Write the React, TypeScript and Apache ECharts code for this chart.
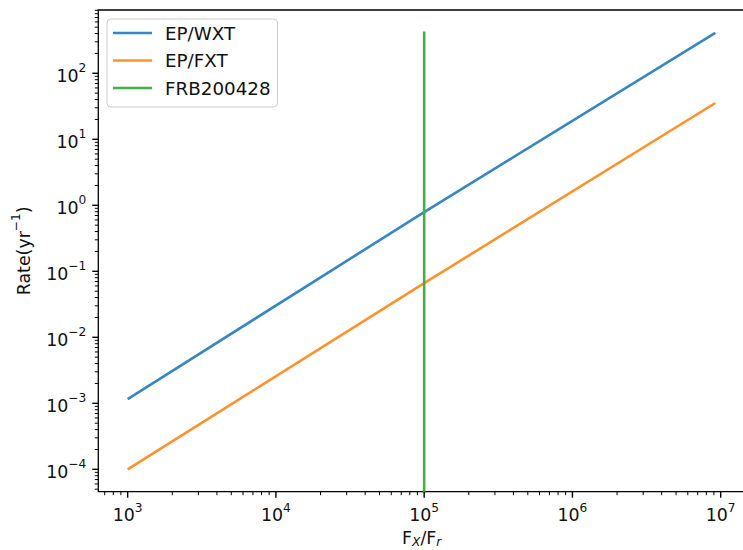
import React, { useEffect, useRef } from 'react';
import * as echarts from 'echarts';

// Detection rate against X-ray to radio fluence ratio
const seriesNames = ['EP/WXT', 'EP/FXT', 'FRB200428'];
const wxtFlux = [1e3, 1e5, 9.2e6];
const wxtRate = [1.16e-3, 0.79, 410];
const fxtFlux = [1e3, 1e5, 9.2e6];
const fxtRate = [1.0e-4, 0.066, 35.5];
const frbFlux = [1e5, 1e5];
const frbRate = [1e-5, 430];

// Tick decades (powers of ten) and minor tick multiples
const xTickExponents = [3, 4, 5, 6, 7];
const yTickExponents = [-4, -3, -2, -1, 0, 1, 2];
const minorMultiples = [2, 3, 4, 5, 6, 7, 8, 9];

const colors = ['#3786c1', '#ff922d', '#48ad48'];
const FONT = 'DejaVu Sans';

const X_MIN = Math.pow(10, 2.802);
const X_MAX = Math.pow(10, 7.164);
const Y_MIN = Math.pow(10, -4.339);
const Y_MAX = Math.pow(10, 2.959);

const sup = (e: number) => (e < 0 ? '\u2212' + Math.abs(e) : String(e));

const powerLabel = (v: number) => {
  const l = Math.log10(v);
  const e = Math.round(l);
  if (Math.abs(l - e) > 1e-6) return '';
  return `{b|10}{s|${sup(e)}}`;
};

const labelRich = {
  b: { fontFamily: FONT, fontSize: 17.4, lineHeight: 22, color: '#111', verticalAlign: 'bottom' },
  s: { fontFamily: FONT, fontSize: 12.2, lineHeight: 12, color: '#111', verticalAlign: 'top' },
};

// Tick marks: kind 0 = x major, 1 = x minor, 2 = y major, 3 = y minor
function buildTicks() {
  const rows: number[][] = [];
  xTickExponents.forEach((e) => rows.push([Math.pow(10, e), Y_MIN, 0]));
  yTickExponents.forEach((e) => rows.push([X_MIN, Math.pow(10, e), 2]));
  for (let d = 2; d <= 7; d++) {
    minorMultiples.forEach((m) => {
      const v = m * Math.pow(10, d);
      if (v > X_MIN && v < X_MAX) rows.push([v, Y_MIN, 1]);
    });
  }
  for (let d = -5; d <= 2; d++) {
    minorMultiples.forEach((m) => {
      const v = m * Math.pow(10, d);
      if (v > Y_MIN && v < Y_MAX) rows.push([X_MIN, v, 3]);
    });
  }
  return rows;
}

const zip = (xs: number[], ys: number[]) => xs.map((x, i) => [x, ys[i]]);

export default function App() {
  const ref = useRef<HTMLDivElement>(null);

  useEffect(() => {
    if (!ref.current) return;
    const chart = echarts.init(ref.current, null, { renderer: 'svg' });

    const lineSeries = [
      [wxtFlux, wxtRate],
      [fxtFlux, fxtRate],
      [frbFlux, frbRate],
    ].map(([xs, ys], i) => ({
      name: seriesNames[i],
      type: 'line',
      data: zip(xs, ys),
      showSymbol: false,
      symbol: 'none',
      color: colors[i],
      lineStyle: { width: 2.6, color: colors[i] },
      clip: true,
      z: 3,
    }));

    chart.setOption({
      animation: false,
      grid: {
        left: 98.3,
        top: 10,
        right: -2,
        bottom: 58.3,
        containLabel: false,
        outerBoundsMode: 'none',
        show: true,
        borderColor: '#000',
        borderWidth: 1.3,
        backgroundColor: 'transparent',
      },
      legend: {
        data: seriesNames.map((n) => ({ name: n, icon: 'rect' })),
        orient: 'vertical',
        left: 107,
        top: 19,
        itemWidth: 39,
        itemHeight: 2.6,
        itemGap: 7.5,
        padding: [4, 7, 9, 6],
        borderColor: '#cccccc',
        borderWidth: 1,
        borderRadius: 4,
        backgroundColor: 'rgba(255,255,255,0.8)',
        textStyle: { fontFamily: FONT, fontSize: 18.3, color: '#111', lineHeight: 20, padding: [0, 0, 0, 8] },
      },
      xAxis: {
        type: 'log',
        logBase: 10,
        min: X_MIN,
        max: X_MAX,
        splitNumber: 5,
        axisLine: { show: false },
        axisTick: { show: false },
        splitLine: { show: false },
        axisLabel: { formatter: powerLabel, rich: labelRich, margin: 10, showMinLabel: true, showMaxLabel: true },
        name: '{n|F}{i|X}{n|/F}{i|r}',
        nameLocation: 'middle',
        nameGap: 38,
        nameTextStyle: {
          rich: {
            n: { fontFamily: FONT, fontSize: 17.4, lineHeight: 18, color: '#111', verticalAlign: 'top' },
            i: { fontFamily: FONT, fontSize: 12.2, fontStyle: 'italic', lineHeight: 11, color: '#111', verticalAlign: 'bottom' },
          },
        },
      },
      yAxis: {
        type: 'log',
        logBase: 10,
        min: Y_MIN,
        max: Y_MAX,
        splitNumber: 8,
        axisLine: { show: false },
        axisTick: { show: false },
        splitLine: { show: false },
        axisLabel: { formatter: powerLabel, rich: labelRich, margin: 12 },
        name: '{n|Rate(yr}{s|\u22121}{n|)}',
        nameLocation: 'middle',
        nameGap: 66,
        nameRotate: 90,
        nameTextStyle: {
          rich: {
            n: { fontFamily: FONT, fontSize: 17.4, lineHeight: 22, color: '#111', verticalAlign: 'bottom' },
            s: { fontFamily: FONT, fontSize: 12.2, lineHeight: 12, color: '#111', verticalAlign: 'top' },
          },
        },
      },
      series: [
        ...lineSeries,
        {
          type: 'custom',
          silent: true,
          clip: false,
          z: 10,
          dimensions: ['x', 'y', 'kind'],
          encode: { x: 0, y: 1 },
          data: buildTicks(),
          renderItem: (_params: any, api: any) => {
            const kind = api.value(2);
            const p = api.coord([api.value(0), api.value(1)]);
            const major = kind === 0 || kind === 2;
            const len = major ? 6 : 3.5;
            const lw = major ? 1.4 : 1;
            const shape =
              kind < 2
                ? { x1: p[0], y1: p[1], x2: p[0], y2: p[1] + len }
                : { x1: p[0] - len, y1: p[1], x2: p[0], y2: p[1] };
            return { type: 'line', shape, style: { stroke: '#000', lineWidth: lw } };
          },
        },
      ],
    });

    return () => chart.dispose();
  }, []);

  return (
    <div
      ref={ref}
      style={{ position: 'fixed', left: 0, top: 0, width: 743, height: 550, background: '#fff' }}
    />
  );
}
